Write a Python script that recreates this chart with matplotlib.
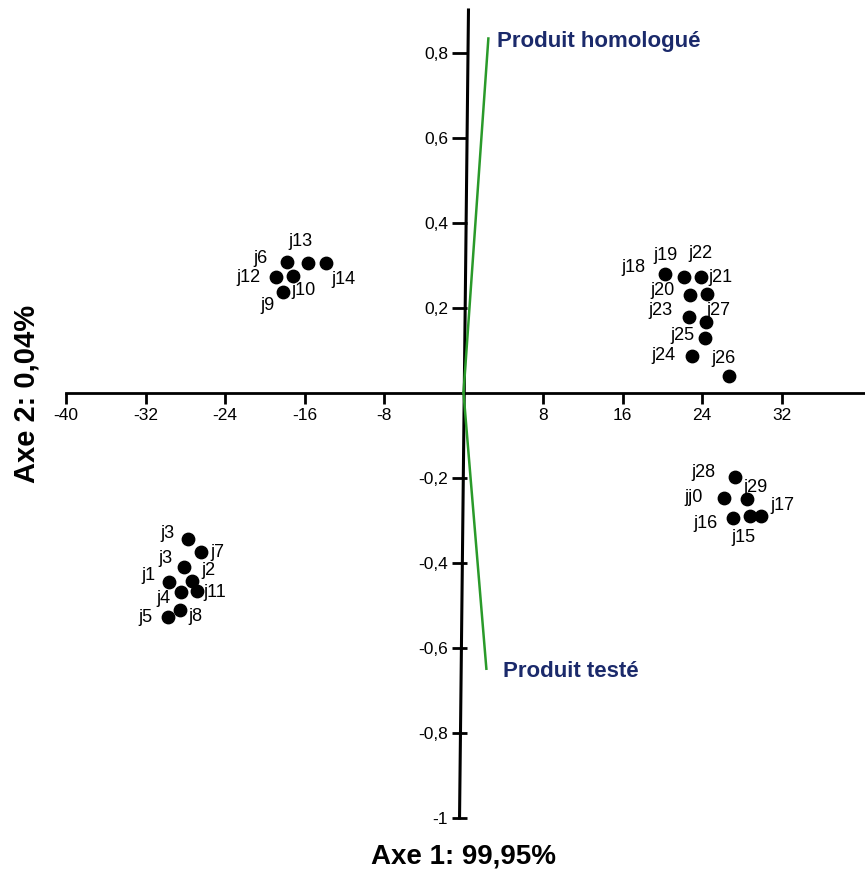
import matplotlib
matplotlib.use("Agg")
import matplotlib.pyplot as plt
import numpy as np

# individus (coordonnées)
names = ['j6', 'j13', 'j14', 'j12', 'j10', 'j9',
         'j18', 'j19', 'j22', 'j20', 'j21', 'j23', 'j27', 'j25', 'j24', 'j26',
         'j28', 'jj0', 'j29', 'j16', 'j15', 'j17',
         'j3', 'j7', 'j3', 'j1', 'j2', 'j11', 'j4', 'j8', 'j5']
axe1 = [-17.8, -15.6, -13.8, -18.9, -17.2, -18.2,
        20.3, 22.2, 23.9, 22.8, 24.5, 22.7, 24.4, 24.3, 23.0, 26.7,
        27.3, 26.2, 28.5, 27.1, 28.8, 29.9,
        -27.7, -26.4, -28.1, -29.6, -27.3, -26.8, -28.4, -28.5, -29.7]
axe2 = [0.308, 0.306, 0.304, 0.271, 0.275, 0.238,
        0.280, 0.271, 0.273, 0.231, 0.233, 0.179, 0.167, 0.129, 0.087, 0.040,
        -0.198, -0.247, -0.249, -0.294, -0.289, -0.289,
        -0.344, -0.374, -0.409, -0.445, -0.442, -0.466, -0.468, -0.511, -0.527]
# décalage des étiquettes (pixels)
lab_dx = [-26, -8, 17, -27, 11, -15,
          -32, -19, -1, -28, 13, -29, 12, -23, -29, -5,
          -31, -30, 9, -27, -6, 22,
          -21, 16, -19, -21, 16, 18, -18, 15, -23]
lab_dy = [3, 21, -16, 0, -15, -14,
          6, 22, 23, 4, 16, 6, 11, 2, 0, 17,
          4, 0, 11, -6, -22, 10,
          6, -1, 8, 6, 10, -2, -7, -6, -1]

# variables
var_names = ['Produit homologué', 'Produit testé']
var_axe1 = [2.5, 2.3]
var_axe2 = [0.833, -0.649]
var_dx = [6, 12]

xticks = [-40, -32, -24, -16, -8, 8, 16, 24, 32]
yticks = [0.8, 0.6, 0.4, 0.2, -0.2, -0.4, -0.6, -0.8, -1]

fig = plt.figure(figsize=(8.65, 8.74), dpi=100)
ax = fig.add_axes([66/865, 1 - 818/874, 1 - 66/865, 808/874])
ax.set_xlim(-40, 40.4)
ax.set_ylim(-1.0, 0.9)

font = ['Liberation Sans', 'DejaVu Sans']

ax.spines['top'].set_visible(False)
ax.spines['right'].set_visible(False)
ax.spines['bottom'].set_position(('data', 0))
ax.spines['bottom'].set_linewidth(2)
ax.spines['left'].set_position(('data', 0.4))
ax.spines['left'].set_color('none')

# axe vertical légèrement incliné comme sur l'original
ax.plot([0.5, -0.4], [0.9, -1.0], color='black', lw=2.2, clip_on=False, zorder=2)

ax.set_xticks(xticks)
ax.set_xticklabels([str(t) for t in xticks], family=font, fontsize=12.5)
ax.set_yticks(yticks)
ax.set_yticklabels([('%g' % t).replace('.', ',') for t in yticks], family=font, fontsize=12.5)
ax.tick_params(axis='x', direction='out', length=8, width=2, pad=3)
ax.tick_params(axis='y', direction='out', length=11, width=2, pad=3)

for i in range(len(var_names)):
    ax.plot([0, var_axe1[i]], [0, var_axe2[i]], color='#2a9a2a', lw=1.8, zorder=3)
    ax.annotate(var_names[i], (var_axe1[i], var_axe2[i]), xytext=(var_dx[i], -2),
                textcoords='offset points', ha='left', va='center',
                fontsize=16, fontweight='bold', color='#1b2a6b', family=font)

ax.scatter(axe1, axe2, s=80, color='black', zorder=4)
for i in range(len(names)):
    ax.annotate(names[i], (axe1[i], axe2[i]),
                xytext=(lab_dx[i] * 0.72, lab_dy[i] * 0.72),
                textcoords='offset points', ha='center', va='center',
                fontsize=13, family=font, color='black')

fig.text(464/865, 1 - 857/874, 'Axe 1: 99,95%', ha='center', va='center',
         fontsize=20, fontweight='bold', family=font)
fig.text(27/865, 1 - 394/874, 'Axe 2: 0,04%', ha='center', va='center', rotation=90,
         fontsize=21, fontweight='bold', family=font)

fig.savefig('out.png', dpi=100)
